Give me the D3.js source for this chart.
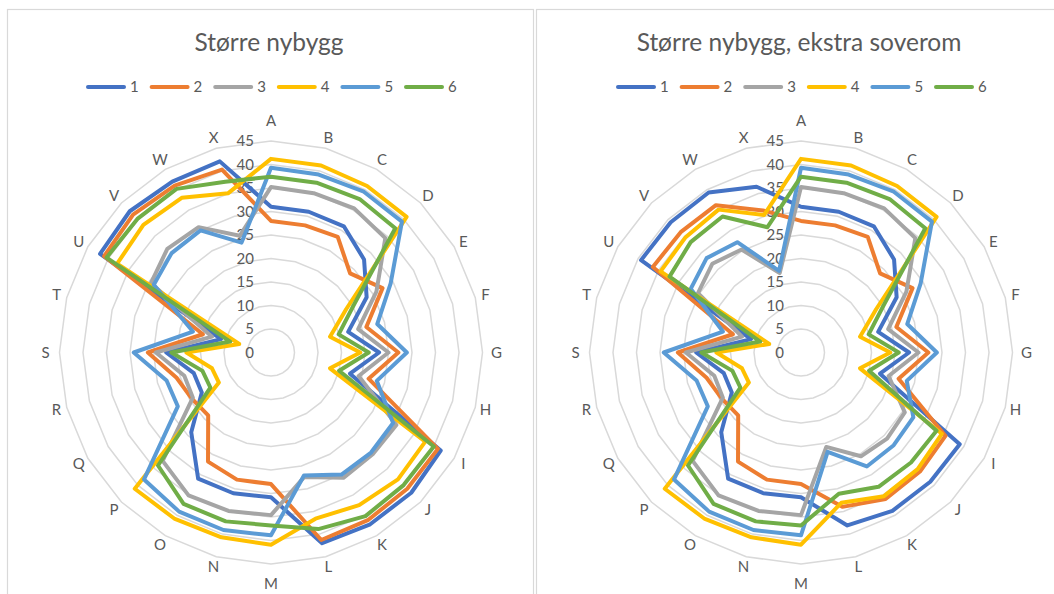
<!DOCTYPE html>
<html lang="no">
<head>
<meta charset="utf-8">
<title>Større nybygg</title>
<style>
  body { margin: 0; background: #fff; }
  svg { display: block; font-family: Lato, "Open Sans", sans-serif; }
  .title { font-size: 24.5px; fill: #595959; }
  .lab { font-size: 15px; fill: #595959; }
  .ring { fill: none; stroke: #d9d9d9; stroke-width: 1.5; }
  .series { fill: none; stroke-width: 4; stroke-linejoin: round; }
</style>
</head>
<body>
<div id="chart"></div>
<script src="https://cdn.jsdelivr.net/npm/d3@7"></script>
<script>
    var categories = ["A", "B", "C", "D", "E", "F", "G", "H", "I", "J", "K", "L",
                      "M", "N", "O", "P", "Q", "R", "S", "T", "U", "V", "W", "X"];
    var seriesNames = ["1", "2", "3", "4", "5", "6"];
    var ticks = [0, 5, 10, 15, 20, 25, 30, 35, 40, 45];

    // "Større nybygg"
    var nybygg1 = [31, 31, 31, 28, 23.5, 17, 23, 17.4, 41.7, 42.2, 42.2, 42, 30.8, 31, 31, 24, 17, 17, 22.3, 11, 42, 42.5, 42, 42.1];
    var nybygg2 = [28, 28, 28.4, 23.8, 27.4, 21, 27.1, 21.5, 41, 41, 41.2, 41.3, 28, 28, 26.8, 18.9, 19.5, 20.8, 26.2, 15, 41, 41.5, 41, 40.3];
    var nybygg3 = [35.2, 35.1, 35.4, 34.4, 25.9, 19.2, 25, 19.3, 30.8, 30.6, 30.8, 27.4, 34.6, 34.9, 35.1, 32.6, 19.2, 19.1, 24.5, 13, 29.5, 31.2, 30.8, 25.7];
    var nybygg4 = [41.2, 41.2, 40.9, 40.8, 18.5, 13, 19, 13, 37.9, 38.2, 37.5, 36.6, 40.9, 40.7, 40.9, 41, 12.8, 13, 18, 7, 37.8, 38.4, 38, 35.1];
    var nybygg5 = [39.3, 39.2, 39.5, 39.4, 29.4, 23.4, 28.9, 23.3, 30, 30.1, 30, 27.1, 38.9, 39.1, 39.1, 38.2, 22.9, 23, 29.2, 17.2, 28.8, 29.9, 30, 24.2];
    var nybygg6 = [37.4, 37.4, 37.7, 37.4, 20.4, 14.9, 20.8, 15, 40, 39.9, 40.2, 38.9, 36.8, 37.2, 37.2, 34, 14.9, 15.1, 21.2, 9, 40.4, 40.2, 40.2, 37.6];

    // "Større nybygg, ekstra soverom"
    var soverom1 = [31, 31, 31, 28, 23.5, 17, 23, 17.4, 39, 38.9, 38.9, 38.1, 30.8, 31, 31, 24, 17, 17, 22.3, 11, 39.3, 39.2, 39.3, 36.5];
    var soverom2 = [28, 28, 28.4, 23.8, 27.4, 21, 27.1, 21.5, 35.5, 35.8, 36, 34, 28, 28, 26.8, 18.9, 19.5, 20.8, 26.2, 15, 36.4, 36.2, 36.2, 31.3];
    var soverom3 = [35.2, 35.1, 35.4, 34.4, 25.9, 19.2, 25, 19.3, 25.5, 25.9, 25.5, 20.8, 34.6, 34.9, 35.1, 32.6, 19.2, 19.1, 24.5, 13, 25.3, 26.7, 25.3, 17.5];
    var soverom4 = [41.2, 41.2, 40.9, 40.8, 18.5, 13, 19, 13, 34.6, 35.1, 35.3, 33.1, 40.9, 40.7, 40.9, 41, 12.8, 13, 18, 7, 34.5, 34.7, 35.1, 30.3];
    var soverom5 = [39.3, 39.2, 39.5, 39.4, 29.4, 23.4, 28.9, 23.3, 27.6, 27.9, 28, 21.9, 38.9, 39.1, 39.1, 38.2, 22.9, 23, 29.2, 17.2, 27.1, 28.4, 27.1, 18];
    var soverom6 = [37.4, 37.4, 37.7, 37.4, 20.4, 14.9, 20.8, 15, 33.3, 33.1, 33, 31.1, 36.8, 37.2, 37.2, 34, 14.9, 15.1, 21.2, 9, 32.3, 33.2, 33.4, 27.6];

    var colors = ["#4472c4", "#ed7d31", "#a5a5a5", "#ffc000", "#5b9bd5", "#70ad47"];

    var charts = [
        { title: "Større nybygg", cx: 271, box: [7.5, 533.5],
          series: [nybygg1, nybygg2, nybygg3, nybygg4, nybygg5, nybygg6] },
        { title: "Større nybygg, ekstra soverom", cx: 801, box: [536.5, 1070],
          series: [soverom1, soverom2, soverom3, soverom4, soverom5, soverom6] }
    ];

    var W = 1054, H = 594, cy = 352.5, R = 211.5;

    var svg = d3.select("#chart").append("svg")
        .attr("width", W)
        .attr("height", H);

    var r = d3.scaleLinear().domain([0, 45]).range([0, R]);
    var angle = d3.scaleLinear().domain([0, categories.length]).range([0, 2 * Math.PI]);

    var radial = d3.lineRadial()
        .angle(function (d, i) { return angle(i); })
        .radius(function (d) { return r(d); })
        .curve(d3.curveLinearClosed);

    charts.forEach(function (c) {
        // panel border
        svg.append("rect")
            .attr("x", c.box[0]).attr("y", 9.5)
            .attr("width", c.box[1] - c.box[0]).attr("height", 700)
            .attr("fill", "none").attr("stroke", "#d9d9d9").attr("stroke-width", 1.2);

        svg.append("text")
            .attr("class", "title")
            .attr("x", c.cx - 2).attr("y", 51)
            .attr("text-anchor", "middle")
            .text(c.title);

        // legend
        var leg = svg.append("g").attr("transform", "translate(" + (c.cx - 185) + ",87)");
        seriesNames.forEach(function (name, i) {
            var g = leg.append("g").attr("transform", "translate(" + (i * 63.6) + ",0)");
            g.append("line")
                .attr("x1", 2).attr("x2", 38)
                .attr("stroke", colors[i]).attr("stroke-width", 4)
                .attr("stroke-linecap", "round");
            g.append("text")
                .attr("class", "lab")
                .attr("x", 44).attr("dy", "0.35em")
                .text(name);
        });

        var plot = svg.append("g").attr("transform", "translate(" + c.cx + "," + cy + ")");

        // gridline polygons
        plot.selectAll(".ring")
            .data(ticks.slice(1))
            .enter()
            .append("path")
            .attr("class", "ring")
            .attr("d", function (t) { return radial(categories.map(function () { return t; })); });

        // value axis labels
        plot.selectAll(".tick")
            .data(ticks)
            .enter()
            .append("text")
            .attr("class", "lab")
            .attr("x", -17)
            .attr("y", function (t) { return -r(t); })
            .attr("dy", "0.35em")
            .attr("text-anchor", "end")
            .text(function (t) { return t; });

        // category labels
        plot.selectAll(".cat")
            .data(categories)
            .enter()
            .append("text")
            .attr("class", "lab")
            .attr("text-anchor", "middle")
            .attr("dy", "0.35em")
            .attr("transform", function (d, i) {
                var a = angle(i), s = Math.sin(a), co = Math.cos(a);
                var dist = 222 + (Math.abs(co) > 0.99 ? 9.5 : 0) + (Math.abs(s) > 0.99 ? 3.5 : 0);
                return "translate(" + (s * dist) + "," + (-co * dist) + ")";
            })
            .text(function (d) { return d; });

        // series
        plot.selectAll(".series")
            .data(c.series)
            .enter()
            .append("path")
            .attr("class", "series")
            .attr("stroke", function (d, i) { return colors[i]; })
            .attr("d", radial);
    });
</script>
</body>
</html>
